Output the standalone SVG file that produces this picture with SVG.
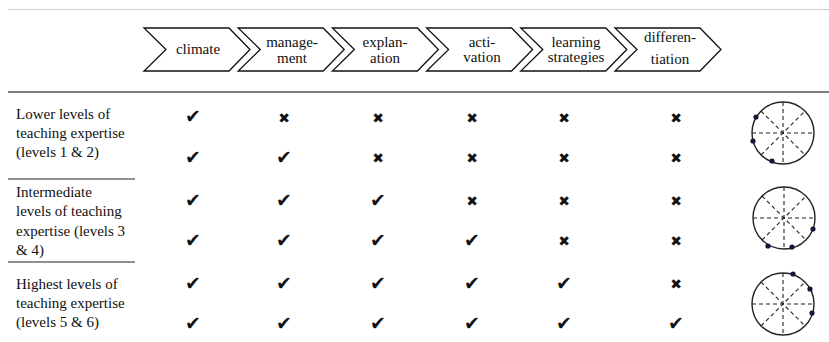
<svg xmlns="http://www.w3.org/2000/svg" width="829" height="342" viewBox="0 0 829 342">
<style>
text{font-family:"Liberation Serif","Times New Roman",serif;font-size:15px;fill:#111}
.h{text-anchor:middle}
.chev{fill:#fff;stroke:#111;stroke-width:1.3;stroke-linejoin:miter}
.ck{font-family:"DejaVu Sans",sans-serif;font-size:19px;text-anchor:middle;fill:#111}
.xx{font-family:"DejaVu Sans",sans-serif;font-size:14px;text-anchor:middle;fill:#111}
.rule{stroke:#222;stroke-width:1.2}
.circ{fill:none;stroke:#222;stroke-width:1.4}
.dash{stroke:#222;stroke-width:1.1;stroke-dasharray:4 3}
.dot{fill:#15153a}
</style>
<defs>
<polygon id="chevshape" class="chev" points="0,28 85,28 106,49.5 85,71 0,71 22,49.5"/>
<g id="wheel">
<circle class="circ" r="31"/>
<line class="dash" x1="-31" y1="0" x2="31" y2="0"/>
<line class="dash" x1="0" y1="-31" x2="0" y2="31"/>
<line class="dash" x1="-22" y1="-22" x2="22" y2="22"/>
<line class="dash" x1="-22" y1="22" x2="22" y2="-22"/>
</g>
</defs>
<g id="rules">
<line x1="8" y1="9.5" x2="829" y2="9.5" stroke="#cfcfcf" stroke-width="1"/>
<line x1="8" y1="92" x2="829" y2="92" stroke="#555" stroke-width="1.5"/>
<line class="rule" x1="8" y1="179" x2="135" y2="179"/>
<line class="rule" x1="8" y1="262" x2="135" y2="262"/>
</g>
<g id="head-climate"><use href="#chevshape" x="144"/><text class="h" x="198" y="54">climate</text></g>
<g id="head-management"><use href="#chevshape" x="238.2"/><text class="h" x="292" y="47">manage-</text><text class="h" x="292" y="63">ment</text></g>
<g id="head-explanation"><use href="#chevshape" x="332.4"/><text class="h" x="385" y="47">explan-</text><text class="h" x="385" y="63">ation</text></g>
<g id="head-activation"><use href="#chevshape" x="426.6"/><text class="h" x="482" y="47">acti-</text><text class="h" x="482" y="62">vation</text></g>
<g id="head-learning"><use href="#chevshape" x="520.8"/><text class="h" x="576" y="47">learning</text><text class="h" x="576" y="62">strategies</text></g>
<g id="head-differentiation"><use href="#chevshape" x="615"/><text class="h" x="670" y="42">differen-</text><text class="h" x="670" y="64">tiation</text></g>
<g id="label-lower"><text x="16" y="119">Lower levels of</text><text x="16" y="138">teaching expertise</text><text x="16" y="157">(levels 1 &amp; 2)</text></g>
<g id="label-intermediate"><text x="16" y="197">Intermediate</text><text x="16" y="216">levels of teaching</text><text x="16" y="236">expertise (levels 3</text><text x="16" y="255">&amp; 4)</text></g>
<g id="label-highest"><text x="16" y="289">Highest levels of</text><text x="16" y="308">teaching expertise</text><text x="16" y="327">(levels 5 &amp; 6)</text></g>
<g id="marks">
<text class="ck" x="193" y="123">✔</text><text class="xx" x="284" y="123">✖</text><text class="xx" x="378" y="123">✖</text><text class="xx" x="472" y="123">✖</text><text class="xx" x="564" y="123">✖</text><text class="xx" x="676" y="123">✖</text>
<text class="ck" x="193" y="164">✔</text><text class="ck" x="284" y="164">✔</text><text class="xx" x="378" y="163">✖</text><text class="xx" x="472" y="163">✖</text><text class="xx" x="564" y="163">✖</text><text class="xx" x="676" y="163">✖</text>
<text class="ck" x="193" y="207">✔</text><text class="ck" x="284" y="207">✔</text><text class="ck" x="378" y="207">✔</text><text class="xx" x="472" y="206">✖</text><text class="xx" x="564" y="206">✖</text><text class="xx" x="676" y="206">✖</text>
<text class="ck" x="193" y="247">✔</text><text class="ck" x="284" y="247">✔</text><text class="ck" x="378" y="247">✔</text><text class="ck" x="472" y="247">✔</text><text class="xx" x="564" y="246">✖</text><text class="xx" x="676" y="246">✖</text>
<text class="ck" x="193" y="290">✔</text><text class="ck" x="284" y="290">✔</text><text class="ck" x="378" y="290">✔</text><text class="ck" x="472" y="290">✔</text><text class="ck" x="564" y="290">✔</text><text class="xx" x="676" y="289">✖</text>
<text class="ck" x="193" y="330">✔</text><text class="ck" x="284" y="330">✔</text><text class="ck" x="378" y="330">✔</text><text class="ck" x="472" y="330">✔</text><text class="ck" x="564" y="330">✔</text><text class="ck" x="676" y="330">✔</text>
</g>
<g id="wheel-lower"><use href="#wheel" x="783" y="133"/>
<circle class="dot" cx="756" cy="117" r="2.6"/><circle class="dot" cx="753" cy="141" r="2.6"/><circle class="dot" cx="772" cy="161" r="2.6"/></g>
<g id="wheel-intermediate"><use href="#wheel" x="784" y="218"/>
<circle class="dot" cx="813" cy="229" r="2.6"/><circle class="dot" cx="768" cy="246" r="2.6"/><circle class="dot" cx="792" cy="247" r="2.6"/></g>
<g id="wheel-highest"><use href="#wheel" x="783" y="304"/>
<circle class="dot" cx="793" cy="274" r="2.6"/><circle class="dot" cx="810" cy="289" r="2.6"/><circle class="dot" cx="812" cy="313" r="2.6"/></g>
</svg>
